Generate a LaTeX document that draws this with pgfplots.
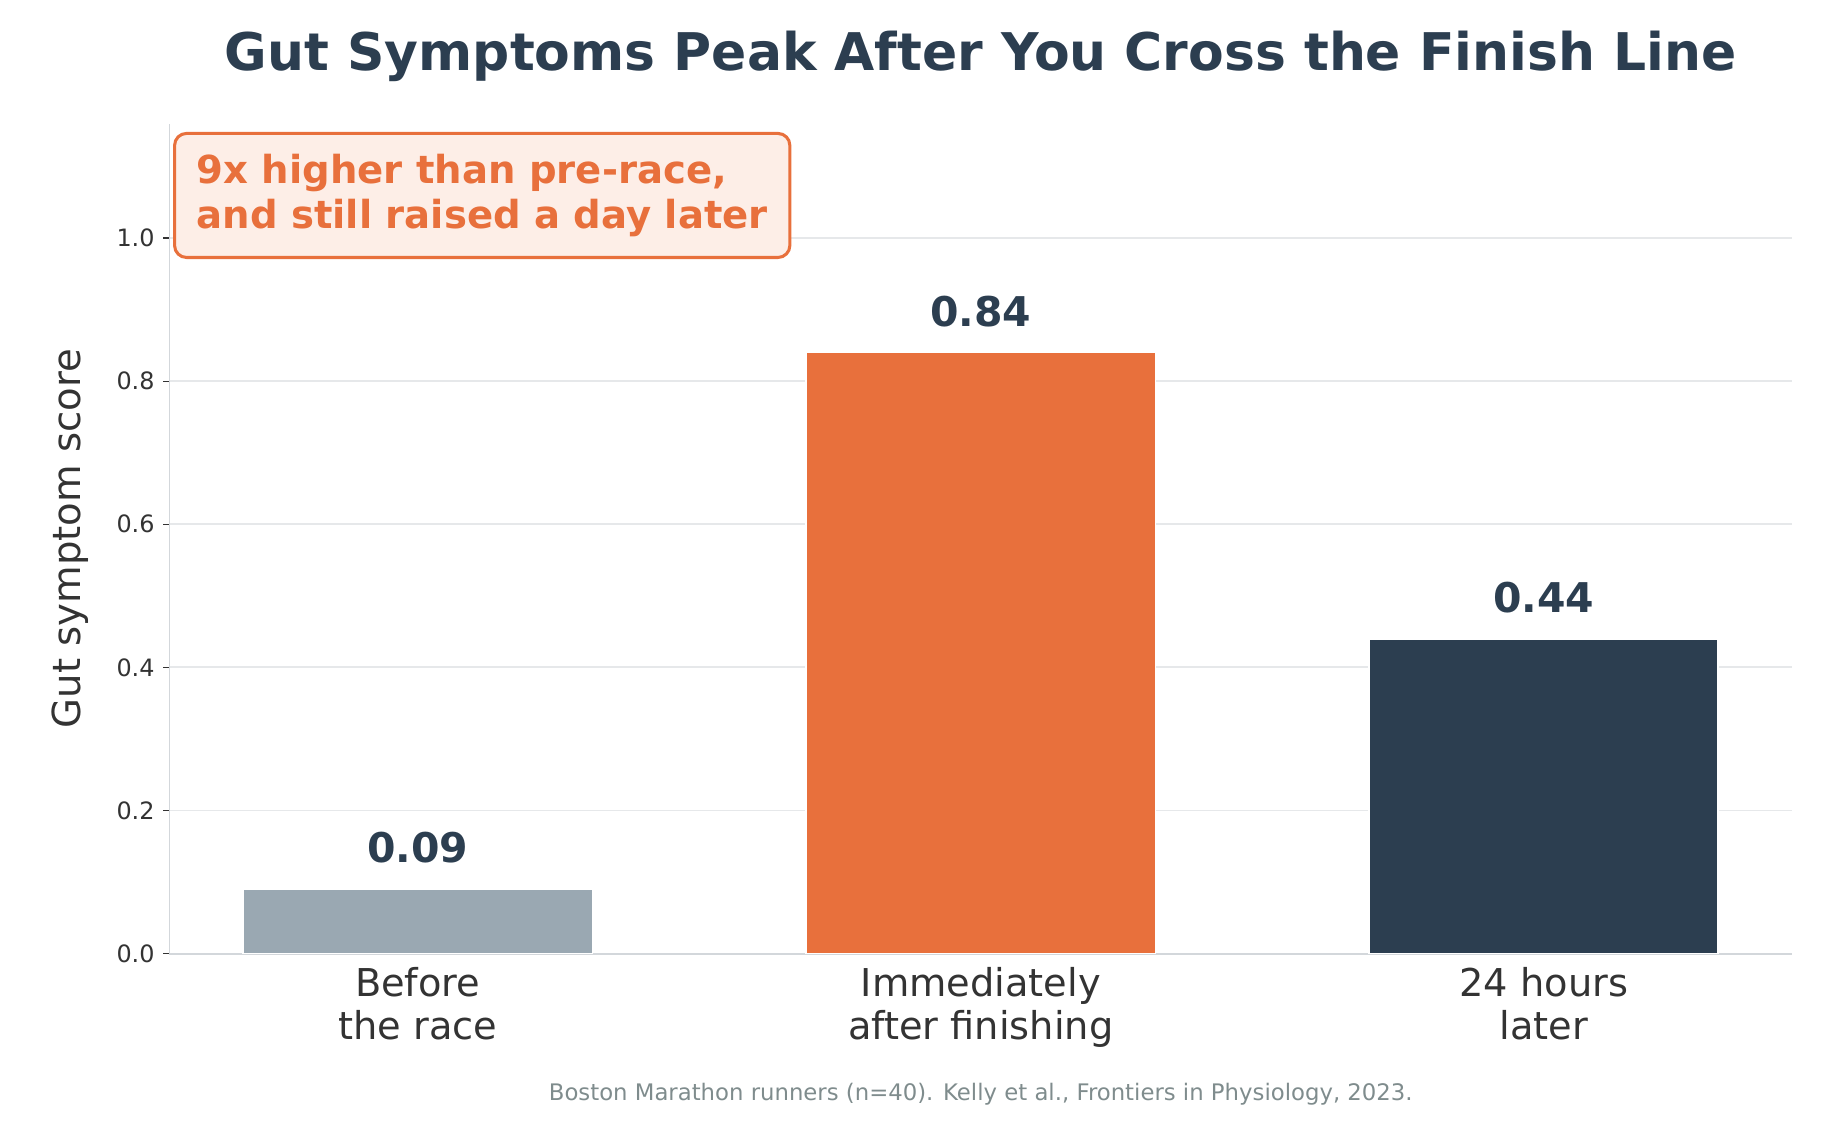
\documentclass[border=0pt]{standalone}
\usepackage{pgfplots}
\pgfplotsset{compat=1.18}
\usepackage{fontspec}
\setmainfont{DejaVu Sans}

\definecolor{navy}{HTML}{2C3E50}
\definecolor{accent}{HTML}{E8703C}
\definecolor{slate}{HTML}{9AA8B2}
\definecolor{peach}{HTML}{FDEEE7}
\definecolor{gridcol}{HTML}{E6E8EA}
\definecolor{spinecol}{HTML}{D3D7DB}
\definecolor{labelcol}{HTML}{333333}
\definecolor{footcol}{HTML}{7F8C8D}

\pgfplotsset{/pgf/number format/assume math mode=true}

\begin{document}
\begin{tikzpicture}
\useasboundingbox (-61.02pt,-66.38pt) rectangle (603.54pt,343.30pt);
\begin{axis}[
  at={(0,0)}, anchor=south west,
  scale only axis, width=584.1pt, height=298.8pt,
  xmin=-0.441, xmax=2.441, ymin=0, ymax=1.16,
  axis x line*=bottom, axis y line*=left,
  axis line style={draw=spinecol, line width=0.7pt, -},
  ybar, bar width=0.62,
  xtick={0,1,2},
  xticklabels={Before\\the race, Immediately\\after finishing, 24 hours\\later},
  xticklabel style={align=center, anchor=north, inner sep=0pt, yshift=-2.5pt,
    text=labelcol, font=\fontsize{13.8}{15.5}\selectfont},
  ytick={0,0.2,0.4,0.6,0.8,1.0},
  yticklabel style={anchor=east, inner sep=0pt, xshift=-3pt,
    text=labelcol, font=\fontsize{8.6}{10}\selectfont,
    /pgf/number format/.cd, fixed, fixed zerofill, precision=1},
  ymajorgrids, grid style={draw=gridcol, line width=0.7pt},
  tick align=outside,
  x tick style={draw=none},
  y tick style={draw=labelcol, line width=0.45pt},
  major tick length=2.2pt,
  clip=false,
  nodes near coords={\pgfmathprintnumber[fixed,fixed zerofill,precision=2]{\pgfplotspointmeta}},
  every node near coord/.append style={anchor=base, yshift=9.5pt, inner sep=0pt,
    text=navy, font=\bfseries\fontsize{14.75}{17}\selectfont},
]
% one bar per time point
\addplot[fill=slate, draw=white, line width=0.55pt, bar shift=0pt] coordinates {(0,0.09)};
\addplot[fill=accent, draw=white, line width=0.55pt, bar shift=0pt] coordinates {(1,0.84)};
\addplot[fill=navy, draw=white, line width=0.55pt, bar shift=0pt] coordinates {(2,0.44)};

% callout box
\node[anchor=north west, draw=accent, line width=1.1pt, fill=peach,
  rounded corners=4.3pt, inner xsep=7.9pt, inner ysep=7.5pt, align=left,
  text=accent, font=\bfseries\fontsize{13.9}{16.1}\selectfont]
  at (axis description cs:0.0022,0.99)
  {9x higher than pre-race,\\and still raised a day later};

% title, axis label and source line
\node[anchor=base, text=navy, font=\bfseries\fontsize{18.7}{22}\selectfont]
  at (axis description cs:0.5,1.064)
  {Gut Symptoms Peak After You Cross the Finish Line};
\node[rotate=90, text=labelcol, font=\fontsize{13.9}{16}\selectfont]
  at ([xshift=-35.6pt]axis description cs:0,0.5) {Gut symptom score};
\node[anchor=base, text=footcol, font=\fontsize{8.2}{10}\selectfont]
  at ([yshift=-53pt]axis description cs:0.5,0)
  {Boston Marathon runners (n=40). Kelly et al., Frontiers in Physiology, 2023.};
\end{axis}
\end{tikzpicture}
\end{document}
